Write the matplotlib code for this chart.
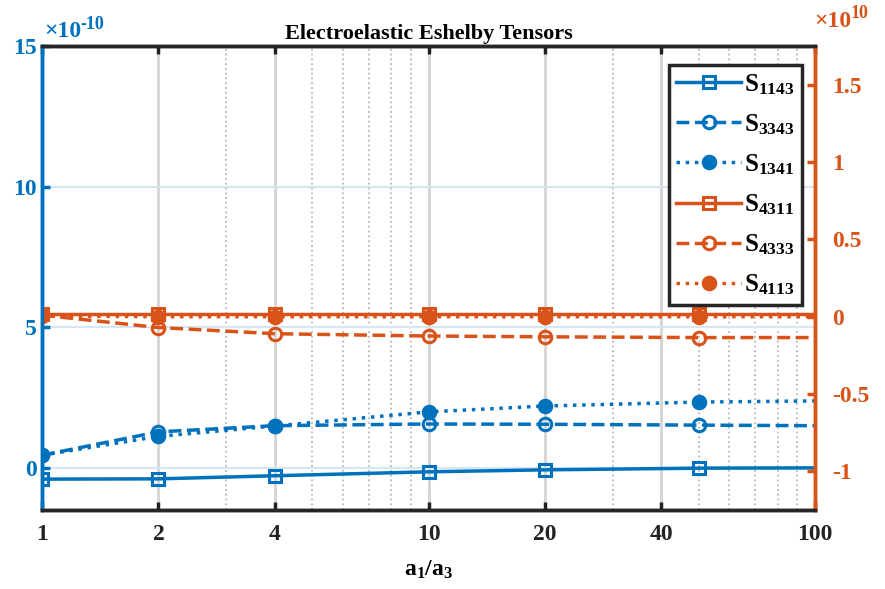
import numpy as np
import matplotlib
matplotlib.use("Agg")
import matplotlib.pyplot as plt
from matplotlib.ticker import FixedLocator, NullFormatter

# data (left axis x1e-10, right axis x1e10)
ratio = [1, 2, 4, 10, 20, 50, 100]
S1143 = [-0.40, -0.39, -0.28, -0.14, -0.07, -0.01, 0.0]
S3343 = [0.45, 1.28, 1.50, 1.56, 1.55, 1.52, 1.50]
S1341 = [0.45, 1.12, 1.49, 1.99, 2.20, 2.34, 2.38]
S4311 = [0.02, 0.02, 0.02, 0.02, 0.02, 0.02, 0.02]
S4333 = [0.01, -0.07, -0.11, -0.125, -0.13, -0.135, -0.135]
S4113 = [0.005, 0.0, 0.0, 0.0, 0.0, 0.0, 0.0]

xticks = [1, 2, 4, 10, 20, 40, 100]
left_ticks = [0, 5, 10, 15]
right_ticks = [-1, -0.5, 0, 0.5, 1, 1.5]
right_labels = ['-1', '-0.5', '0', '0.5', '1', '1.5']

blue = '#0072BD'
orange = '#D95319'

plt.rcParams['font.family'] = 'Liberation Serif'
plt.rcParams['font.weight'] = 'bold'
plt.rcParams['mathtext.fontset'] = 'custom'
plt.rcParams['mathtext.rm'] = 'Liberation Serif:bold'
plt.rcParams['mathtext.bf'] = 'Liberation Serif:bold'
plt.rcParams['mathtext.it'] = 'Liberation Serif:bold'
plt.rcParams['axes.unicode_minus'] = False

fig = plt.figure(figsize=(8.85, 5.89), dpi=100)
ax = fig.add_axes([0.0475, 0.134, 0.8735, 0.788])
ax2 = ax.twinx()

ax.set_xscale('log')
ax.set_xlim(1, 100)
ax.set_ylim(-1.5, 15)
ax2.set_ylim(-1.25, 1.75)

# grid
for v in [2, 4, 10, 20, 40]:
    ax.axvline(v, color='#d4d4d4', lw=2, zorder=0)
for v in [3, 5, 6, 7, 8, 9, 30, 50, 60, 70, 80, 90]:
    ax.axvline(v, color='#b8b8b8', lw=1.3, ls=':', zorder=0)
for v in [0, 5, 10]:
    ax.axhline(v, color='#d6e7f4', lw=1.5, zorder=0)

mk = dict(markevery=[0, 1, 2, 3, 4, 5], lw=2.5, markersize=9, markeredgewidth=2.2)
h1, = ax.plot(ratio, S1143, '-s', color=blue, mfc='none', label=r'$\mathrm{S_{1143}}$', **mk)
h2, = ax.plot(ratio, S3343, '--o', color=blue, mfc='none', label=r'$\mathrm{S_{3343}}$', **mk)
h3, = ax.plot(ratio, S1341, ':o', color=blue, label=r'$\mathrm{S_{1341}}$', **mk)
h4, = ax2.plot(ratio, S4311, '-s', color=orange, mfc='none', label=r'$\mathrm{S_{4311}}$', **mk)
h5, = ax2.plot(ratio, S4333, '--o', color=orange, mfc='none', label=r'$\mathrm{S_{4333}}$', **mk)
h6, = ax2.plot(ratio, S4113, ':o', color=orange, label=r'$\mathrm{S_{4113}}$', **mk)

ax.xaxis.set_major_locator(FixedLocator(xticks))
ax.xaxis.set_minor_formatter(NullFormatter())
ax.set_xticks(xticks)
ax.set_xticklabels([str(t) for t in xticks])
ax.tick_params(axis='x', which='minor', length=0)
ax.set_yticks(left_ticks)
ax.set_yticklabels([str(t) for t in left_ticks])
ax2.set_yticks(right_ticks)
ax2.set_yticklabels(right_labels)

ax.tick_params(axis='x', direction='in', length=6, width=2.5, labelsize=17, top=True, pad=10, colors='#222222')
ax.tick_params(axis='y', direction='in', length=6, width=2.5, labelsize=17, colors=blue, pad=4)
ax2.tick_params(axis='y', direction='in', length=6, width=2.5, labelsize=17, colors=orange, pad=12)
ax2.tick_params(axis='x', which='both', length=0)

for a in (ax, ax2):
    for s in a.spines.values():
        s.set_linewidth(2.5)
    a.spines['top'].set_color('#262626')
    a.spines['bottom'].set_color('#262626')
    a.spines['left'].set_color(blue)
    a.spines['right'].set_color(orange)

# exponent labels (hyphen like the original)
ax.text(0.003, 1.008, '×10', transform=ax.transAxes, color=blue, fontsize=17, ha='left', va='bottom')
ax.annotate('-10', xy=(0.003, 1.008), xycoords='axes fraction', xytext=(26, 7), textcoords='offset points',
            color=blue, fontsize=13, ha='left', va='bottom')
ax2.text(0.999, 1.03, '×10', transform=ax2.transAxes, color=orange, fontsize=17, ha='left', va='bottom')
ax2.annotate('10', xy=(0.999, 1.03), xycoords='axes fraction', xytext=(26, 7), textcoords='offset points',
             color=orange, fontsize=13, ha='left', va='bottom')

ax.set_title('Electroelastic Eshelby Tensors', fontsize=16, fontweight='bold', pad=5)
ax.set_xlabel(r'$\mathrm{a_1/a_3}$', fontsize=17, labelpad=10)

leg = ax2.legend(handles=[h1, h2, h3, h4, h5, h6], loc='upper right', bbox_to_anchor=(0.983, 0.96),
                 fontsize=18, frameon=True, fancybox=False, framealpha=1, edgecolor='#262626',
                 handlelength=2.6, handletextpad=0.1, labelspacing=0.62, borderpad=0.3,
                 borderaxespad=0)
leg.get_frame().set_linewidth(2.5)

fig.savefig('out.png', dpi=100)
